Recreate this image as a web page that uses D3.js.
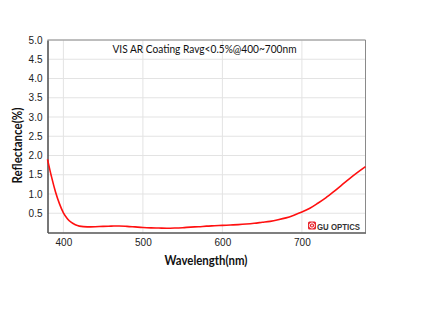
<!DOCTYPE html>
<html>
<head>
<meta charset="utf-8">
<script src="https://cdn.jsdelivr.net/npm/d3@7/dist/d3.min.js"></script>
<style>
  html, body { margin: 0; padding: 0; background: #fff; }
  svg { display: block; }
</style>
</head>
<body>
<svg id="chart" width="424" height="322"></svg>
<script>
// ---- data ----
const wavelengths = [380, 385, 390, 395, 400, 405, 410, 415, 420, 430, 440, 450, 460, 470, 480, 490, 500, 510, 520, 530, 540, 550, 560, 570, 580, 590, 600, 610, 620, 630, 640, 650, 660, 670, 680, 690, 700, 710, 720, 730, 740, 750, 760, 770, 780];
const reflectance = [1.90, 1.45, 1.06, 0.75, 0.51, 0.36, 0.26, 0.20, 0.165, 0.145, 0.15, 0.16, 0.165, 0.17, 0.16, 0.145, 0.13, 0.12, 0.115, 0.11, 0.115, 0.125, 0.14, 0.15, 0.165, 0.175, 0.185, 0.195, 0.205, 0.22, 0.24, 0.265, 0.29, 0.33, 0.38, 0.45, 0.53, 0.63, 0.76, 0.90, 1.06, 1.23, 1.40, 1.56, 1.71];
const xTicks = [400, 500, 600, 700];
const yTicks = [0.5, 1.0, 1.5, 2.0, 2.5, 3.0, 3.5, 4.0, 4.5, 5.0];
const titleText = "VIS AR Coating Ravg<0.5%@400~700nm";
const xLabel = "Wavelength(nm)";
const yLabel = "Reflectance(%)";
const logoText = "GU OPTICS";

// ---- layout ----
const svg = d3.select("#chart");
const pL = 47.5, pR = 365.5, pT = 40, pB = 232.5;

const x = d3.scaleLinear().domain([380, 780]).range([pL, pR]);
const y = d3.scaleLinear().domain([0, 5]).range([pB, pT]);

// gridlines
svg.append("g").selectAll("line").data(xTicks).join("line")
  .attr("x1", d => x(d)).attr("x2", d => x(d))
  .attr("y1", pT).attr("y2", pB)
  .attr("stroke", "#e3e3e3").attr("stroke-width", 1);
svg.append("g").selectAll("line").data(yTicks).join("line")
  .attr("x1", pL).attr("x2", pR)
  .attr("y1", d => y(d)).attr("y2", d => y(d))
  .attr("stroke", "#e3e3e3").attr("stroke-width", 1);

// frame top/right
svg.append("path")
  .attr("d", `M${pL},${pT}H${pR}V${pB}`)
  .attr("fill", "none").attr("stroke", "#8a8a8a").attr("stroke-width", 1);

// axes
const xAxis = d3.axisBottom(x).tickValues(xTicks).tickSize(0).tickPadding(6).tickFormat(d3.format("d"));
const yAxis = d3.axisLeft(y).tickValues(yTicks).tickSize(0).tickPadding(5).tickFormat(d3.format(".1f"));

const gx = svg.append("g").attr("transform", `translate(0,${pB})`).call(xAxis);
const gy = svg.append("g").attr("transform", `translate(${pL},0)`).call(yAxis);
[gx, gy].forEach(g => {
  g.select(".domain").attr("stroke", "#555").attr("stroke-width", 1.6);
  g.selectAll("text").attr("fill", "#222").attr("font-family", "Liberation Sans, Arial, sans-serif").attr("font-size", 10);
});

// curve
const line = d3.line()
  .x((d, i) => x(wavelengths[i]))
  .y(d => y(d))
  .curve(d3.curveMonotoneX);
svg.append("path")
  .datum(reflectance)
  .attr("d", line)
  .attr("fill", "none")
  .attr("stroke", "#ff1010")
  .attr("stroke-width", 1.6);

// title
svg.append("text")
  .attr("x", 204.5).attr("y", 52.5)
  .attr("text-anchor", "middle")
  .attr("font-family", "Lato, 'Open Sans', sans-serif")
  .attr("font-size", 12)
  .attr("fill", "#111")
  .attr("textLength", 184).attr("lengthAdjust", "spacingAndGlyphs")
  .text(titleText);

// axis labels
svg.append("text")
  .attr("x", 206).attr("y", 264.5)
  .attr("text-anchor", "middle")
  .attr("font-family", "Lato, 'Open Sans', sans-serif")
  .attr("font-weight", "bold")
  .attr("font-size", 13)
  .attr("fill", "#111")
  .attr("textLength", 83).attr("lengthAdjust", "spacingAndGlyphs")
  .text(xLabel);

svg.append("text")
  .attr("transform", `translate(22,145.5) rotate(-90)`)
  .attr("text-anchor", "middle")
  .attr("font-family", "Lato, 'Open Sans', sans-serif")
  .attr("font-weight", "bold")
  .attr("font-size", 12.5)
  .attr("fill", "#111")
  .attr("textLength", 76).attr("lengthAdjust", "spacingAndGlyphs")
  .text(yLabel);

// logo
const logo = svg.append("g");
logo.append("rect").attr("x", 308).attr("y", 221.5).attr("width", 8).attr("height", 8).attr("rx", 1.5).attr("fill", "#e8232a");
logo.append("circle").attr("cx", 312).attr("cy", 225.5).attr("r", 2.6).attr("fill", "none").attr("stroke", "#fff").attr("stroke-width", 1);
logo.append("circle").attr("cx", 312).attr("cy", 225.5).attr("r", 0.9).attr("fill", "#fff");
logo.append("text")
  .attr("x", 317).attr("y", 229.5)
  .attr("font-family", "Liberation Sans, Arial, sans-serif")
  .attr("font-weight", "bold")
  .attr("font-size", 9.5)
  .attr("fill", "#333")
  .attr("textLength", 43).attr("lengthAdjust", "spacingAndGlyphs")
  .text(logoText);
</script>
</body>
</html>
